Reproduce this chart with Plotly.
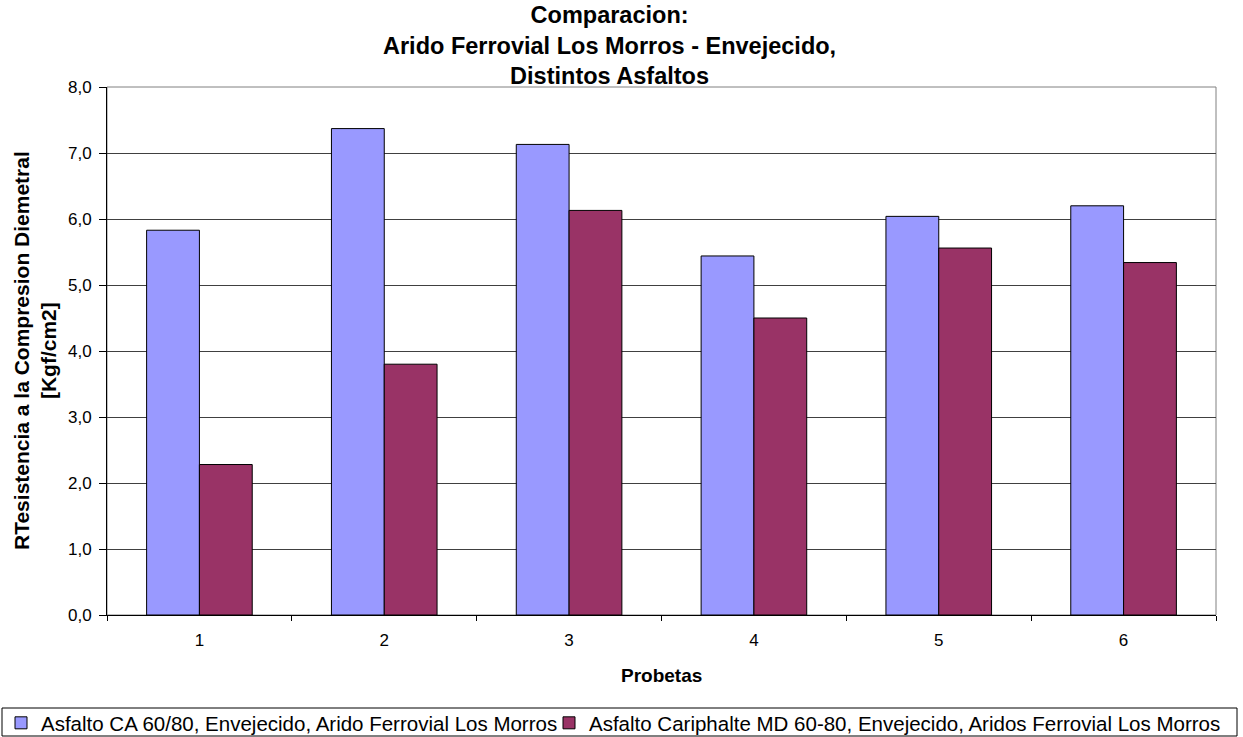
import plotly.graph_objects as go

categories = ["1", "2", "3", "4", "5", "6"]
series1_name = "Asfalto CA 60/80, Envejecido, Arido Ferrovial Los Morros"
series2_name = "Asfalto Cariphalte MD 60-80, Envejecido, Aridos Ferrovial Los Morros"
series1_values = [5.83, 7.37, 7.13, 5.44, 6.04, 6.20]
series2_values = [2.28, 3.80, 6.13, 4.50, 5.56, 5.34]
y_tick_values = [0, 1, 2, 3, 4, 5, 6, 7, 8]

title_lines = ["Comparacion:", "Arido Ferrovial Los Morros - Envejecido,", "Distintos Asfaltos"]
y_title_lines = ["RTesistencia a la Compresion Diemetral", "[Kgf/cm2]"]
x_title = "Probetas"

FONT = "Liberation Sans, Arial, sans-serif"
W, H = 1243, 737
ML, MR, MT, MB = 107, 27, 87, 122
plot_w = W - ML - MR
plot_h = H - MT - MB


def px_x(px):
    return (px - ML) / plot_w


def px_y(py):
    return (H - MB - py) / plot_h


LEG_FONT = 20.5

fig = go.Figure()
fig.add_bar(x=categories, y=series1_values, name=series1_name, legend="legend",
            marker=dict(color="#9999FF", line=dict(color="#000000", width=1)))
fig.add_bar(x=categories, y=series2_values, name=series2_name, legend="legend2",
            marker=dict(color="#993366", line=dict(color="#000000", width=1)))

legend_common = dict(orientation="h", xref="container", yref="container",
                     xanchor="left", yanchor="top", borderwidth=0,
                     bgcolor="rgba(0,0,0,0)",
                     font=dict(size=LEG_FONT, family=FONT, color="#000000"),
                     itemwidth=30)

fig.update_layout(
    width=W, height=H,
    margin=dict(l=ML, r=MR, t=MT, b=MB, autoexpand=False),
    paper_bgcolor="white", plot_bgcolor="white",
    font=dict(family=FONT, color="#000000", size=17),
    separators=",.",
    barmode="group", bargap=1.5 / 3.5, bargroupgap=0,
    showlegend=True,
    legend=dict(x=1 / W, y=(H - 703) / H, **legend_common),
    legend2=dict(x=549 / W, y=(H - 703) / H, **legend_common),
    xaxis=dict(type="category", range=[-0.5, 5.5], showline=True,
               linecolor="#000000", linewidth=1, ticks="outside",
               tickson="boundaries", ticklen=5, tickcolor="#000000",
               tickfont=dict(size=17), showgrid=False, zeroline=False,
               ticklabelstandoff=10),
    yaxis=dict(range=[0, 8], tickvals=y_tick_values, tickformat=".1f",
               showline=True, linecolor="#000000", linewidth=1,
               ticks="outside", ticklen=7, tickcolor="#000000",
               tickfont=dict(size=17), showgrid=True, gridcolor="#404040",
               gridwidth=1, zeroline=False, ticklabelstandoff=4),
)

# plot-area border (top / right in grey)
fig.add_shape(type="rect", xref="paper", yref="paper", x0=0, y0=0, x1=1, y1=1,
              line=dict(color="#808080", width=1), layer="below")

# legend frame enclosing both legend entries
fig.add_shape(type="rect", xref="paper", yref="paper",
              x0=px_x(2), x1=px_x(1237), y0=px_y(736), y1=px_y(708),
              line=dict(color="#000000", width=1), fillcolor="rgba(0,0,0,0)",
              layer="above")

# title
fig.add_annotation(text="<br>".join("<b>%s</b>" % t for t in title_lines),
                   xref="paper", yref="paper", x=px_x(609), y=1,
                   xanchor="center", yanchor="bottom", yshift=-4, showarrow=False,
                   font=dict(size=23.5, family=FONT, color="#000000"), align="center")

# y-axis title
fig.add_annotation(text="<br>".join("<b>%s</b>" % t for t in y_title_lines),
                   xref="paper", yref="paper", x=0, y=0.5, xanchor="center",
                   yanchor="middle", xshift=35 - ML, textangle=-90, showarrow=False,
                   font=dict(size=21, family=FONT, color="#000000"), align="center")

# x-axis title
fig.add_annotation(text="<b>%s</b>" % x_title, xref="paper", yref="paper",
                   x=0.5, y=0, xanchor="center", yanchor="middle",
                   yshift=-(675 - (H - MB)), showarrow=False,
                   font=dict(size=19, family=FONT, color="#000000"))

fig.write_html("out.html", config={"displayModeBar": False},
               post_script="document.body.style.margin='0';")
